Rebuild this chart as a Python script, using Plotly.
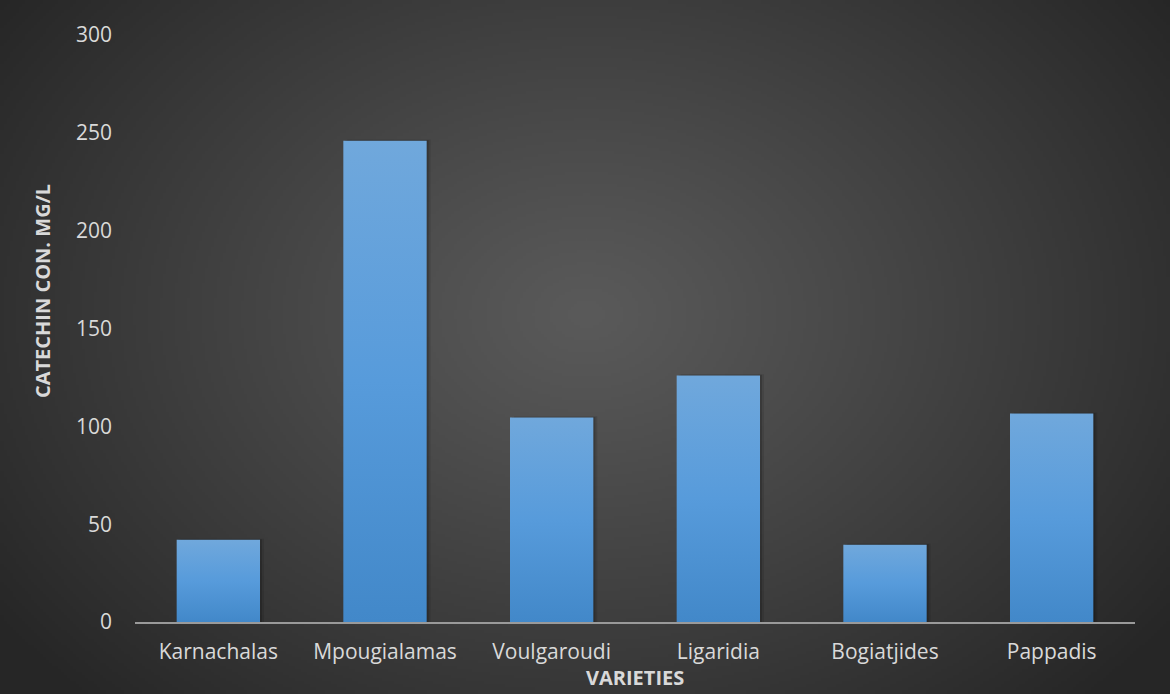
import base64
import struct
import zlib

import numpy as np
import plotly.graph_objects as go

# Catechin concentration (mg/L) per variety
varieties = ["Karnachalas", "Mpougialamas", "Voulgaroudi", "Ligaridia", "Bogiatjides", "Pappadis"]
catechin = [42, 246, 104.5, 126, 39.5, 106.5]
y_ticks = [0, 50, 100, 150, 200, 250, 300]

W, H = 1170, 694
ML, MR, MT, MB = 135, 35, 35, 72
PW, PH = W - ML - MR, H - MT - MB


def png_data_uri(rgb):
    """Encode an HxWx3 uint8 array as a PNG data URI."""
    h, w, _ = rgb.shape
    raw = b"".join(b"\x00" + rgb[r].tobytes() for r in range(h))

    def chunk(tag, data):
        c = struct.pack(">I", len(data)) + tag + data
        return c + struct.pack(">I", zlib.crc32(tag + data) & 0xFFFFFFFF)

    png = b"\x89PNG\r\n\x1a\n"
    png += chunk(b"IHDR", struct.pack(">IIBBBBB", w, h, 8, 2, 0, 0, 0))
    png += chunk(b"IDAT", zlib.compress(raw, 9))
    png += chunk(b"IEND", b"")
    return "data:image/png;base64," + base64.b64encode(png).decode()


# Radial charcoal backdrop: lighter in the middle, darker toward the corners
gw, gh = 390, 232
yy, xx = np.mgrid[0:gh, 0:gw]
cx, cy = gw * 0.50, gh * 0.45
r = np.sqrt(((xx - cx) / (gw * 0.62)) ** 2 + ((yy - cy) / (gh * 0.78)) ** 2)
r = np.clip(r, 0, 1)
inner, outer = 90.0, 38.0
val = inner + (outer - inner) * r ** 1.1
bg = np.repeat(val[:, :, None], 3, axis=2).astype(np.uint8)
bg_uri = png_data_uri(bg)

fig = go.Figure()

half = 0.25
shadow_dx = 0.012
for i, (name, v) in enumerate(zip(varieties, catechin)):
    # soft drop shadow to the right of each column
    for k, a in ((2, 0.10), (1, 0.16)):
        fig.add_trace(go.Scatter(
            x=[i - half + k * shadow_dx, i + half + k * shadow_dx,
               i + half + k * shadow_dx, i - half + k * shadow_dx,
               i - half + k * shadow_dx],
            y=[0, 0, v + k * 0.3, v + k * 0.3, 0],
            mode="lines",
            line=dict(width=0, color="rgba(0,0,0,0)"),
            fill="toself",
            fillcolor=f"rgba(0,0,0,{a})",
            hoverinfo="skip",
            showlegend=False,
        ))
    fig.add_trace(go.Scatter(
        x=[i - half, i + half, i + half, i - half, i - half],
        y=[0, 0, v, v, 0],
        mode="lines",
        line=dict(width=0, color="rgba(0,0,0,0)"),
        fill="toself",
        fillgradient=dict(
            type="vertical",
            colorscale=[[0, "#4288c9"], [0.5, "#579bdb"], [1, "#70a8dc"]],
        ),
        name=name,
        hoverinfo="text",
        text=f"{name}: {v}",
        showlegend=False,
    ))

fig.update_layout(
    width=W,
    height=H,
    margin=dict(l=ML, r=MR, t=MT, b=MB),
    paper_bgcolor="#333333",
    plot_bgcolor="rgba(0,0,0,0)",
    font=dict(family="Open Sans, Noto Sans, sans-serif", color="#d9d9d9", size=21),
    images=[dict(
        source=bg_uri,
        xref="paper", yref="paper",
        x=-ML / PW, y=1 + MT / PH,
        sizex=W / PW, sizey=H / PH,
        sizing="stretch",
        xanchor="left", yanchor="top",
        layer="below",
    )],
    xaxis=dict(
        range=[-0.5, len(varieties) - 0.5],
        tickvals=list(range(len(varieties))),
        ticktext=varieties,
        showgrid=False,
        zeroline=False,
        showline=True,
        linecolor="#9a9a9a",
        linewidth=2,
        ticks="",
        ticklabelstandoff=10,
        tickfont=dict(size=21, color="#d9d9d9"),
        fixedrange=True,
    ),
    yaxis=dict(
        range=[0, 300],
        tickvals=y_ticks,
        showgrid=False,
        zeroline=False,
        showline=False,
        ticks="",
        ticklabelstandoff=22,
        tickfont=dict(size=21, color="#d9d9d9"),
        fixedrange=True,
    ),
    annotations=[
        dict(
            text="<b>VARIETIES</b>",
            xref="paper", yref="paper",
            x=0.5, y=-(677 - (MT + PH)) / PH,
            xanchor="center", yanchor="middle",
            showarrow=False,
            font=dict(size=20, color="#d9d9d9"),
        ),
        dict(
            text="<b>CATECHIN CON. MG/L</b>",
            xref="paper", yref="paper",
            x=-(ML - 42) / PW, y=1 - (291 - MT) / PH,
            xanchor="center", yanchor="middle",
            textangle=-90,
            showarrow=False,
            font=dict(size=20, color="#d9d9d9"),
        ),
    ],
)

fig.write_html("out.html")
